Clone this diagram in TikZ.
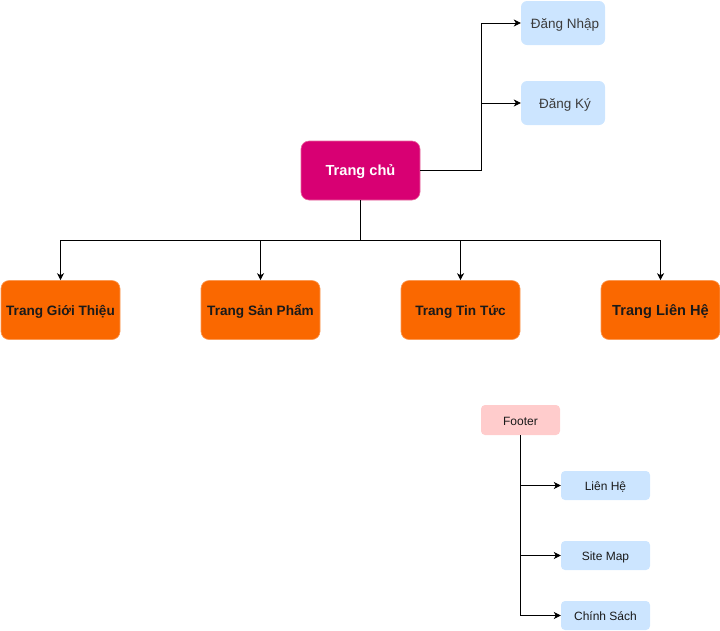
\documentclass[tikz,border=0pt]{standalone}
\usepackage{fontspec}
\setmainfont{Liberation Sans}
\usetikzlibrary{arrows.meta}
\definecolor{mag}{HTML}{D80073}
\definecolor{magline}{HTML}{E8689F}
\definecolor{org}{HTML}{FA6800}
\definecolor{orgline}{HTML}{FB9A55}
\definecolor{lblue}{HTML}{CCE5FF}
\definecolor{lpink}{HTML}{FFCCCC}
\definecolor{txt}{HTML}{1A1A1A}
\tikzset{
  x=1pt, y=-1pt,
  ctext/.style={text height=1.0em, text depth=0pt},
  mainbox/.style={rectangle, rounded corners=8pt, fill=mag, draw=magline, line width=0.6pt, minimum width=119pt, minimum height=59pt, text=white, font=\fontsize{14.6}{16}\selectfont\bfseries, inner sep=0pt, ctext},
  pagebox/.style={rectangle, rounded corners=8pt, fill=org, draw=orgline, line width=0.6pt, minimum width=119pt, minimum height=59pt, text=txt, font=\fontsize{13.6}{15}\selectfont\bfseries, inner sep=0pt, ctext},
  authbox/.style={rectangle, rounded corners=6pt, fill=lblue, minimum width=84pt, minimum height=44pt, text=txt!85, font=\fontsize{13.5}{16}\selectfont, inner sep=0pt, ctext},
  footbox/.style={rectangle, rounded corners=4pt, fill=lpink, minimum width=79pt, minimum height=30pt, text=txt, font=\fontsize{12}{14}\selectfont, inner sep=0pt, ctext},
  linkbox/.style={rectangle, rounded corners=4pt, fill=lblue, minimum width=89pt, minimum height=29pt, text=txt, font=\fontsize{12}{14}\selectfont, inner sep=0pt, ctext},
  conn/.style={draw=black, line width=0.8pt, -{Stealth[length=7pt,width=7pt,inset=2pt]}},
  plain/.style={draw=black, line width=0.8pt}
}
\begin{document}
\begin{tikzpicture}
\useasboundingbox (0,0) rectangle (720,630);
\node[mainbox] (home) at (360.5,170.5) {Trang chủ};
\node[authbox] (login) at (563,23) {\hspace*{4pt}Đăng Nhập};
\node[authbox] (reg) at (563,103) {\hspace*{4pt}Đăng Ký};

\node[pagebox] (gt) at (60.5,310) {Trang Giới Thiệu};
\node[pagebox] (sp) at (260.5,310) {Trang Sản Phẩm};
\node[pagebox] (tt) at (460.5,310) {Trang Tin Tức};
\node[pagebox, font=\fontsize{14.6}{16}\selectfont\bfseries] (lh) at (660.5,310) {Trang Liên Hệ};

\node[footbox] (footer) at (520.5,420) {Footer};
\node[linkbox] (flh) at (605.5,485.5) {Liên Hệ};
\node[linkbox] (fsm) at (605.5,555.5) {Site Map};
\node[linkbox] (fcs) at (605.5,615.5) {Chính Sách};

% top connectors
\coordinate (jx) at (481,170.5);
\draw[conn] (home.east) -- (jx) |- (login.west);
\draw[conn] (jx |- reg.west) -- (reg.west);

% bottom connectors
\coordinate (hb) at (home.south |- 0,240);
\draw[plain] (home.south) -- (hb);
\draw[plain] (gt.north |- hb) -- (lh.north |- hb);
\draw[conn] (gt.north |- hb) -- (gt.north);
\draw[conn] (sp.north |- hb) -- (sp.north);
\draw[conn] (tt.north |- hb) -- (tt.north);
\draw[conn] (lh.north |- hb) -- (lh.north);

% footer connectors
\draw[conn] (footer.south) |- (fcs.west);
\draw[conn] (footer.south |- flh.west) -- (flh.west);
\draw[conn] (footer.south |- fsm.west) -- (fsm.west);
\end{tikzpicture}
\end{document}
